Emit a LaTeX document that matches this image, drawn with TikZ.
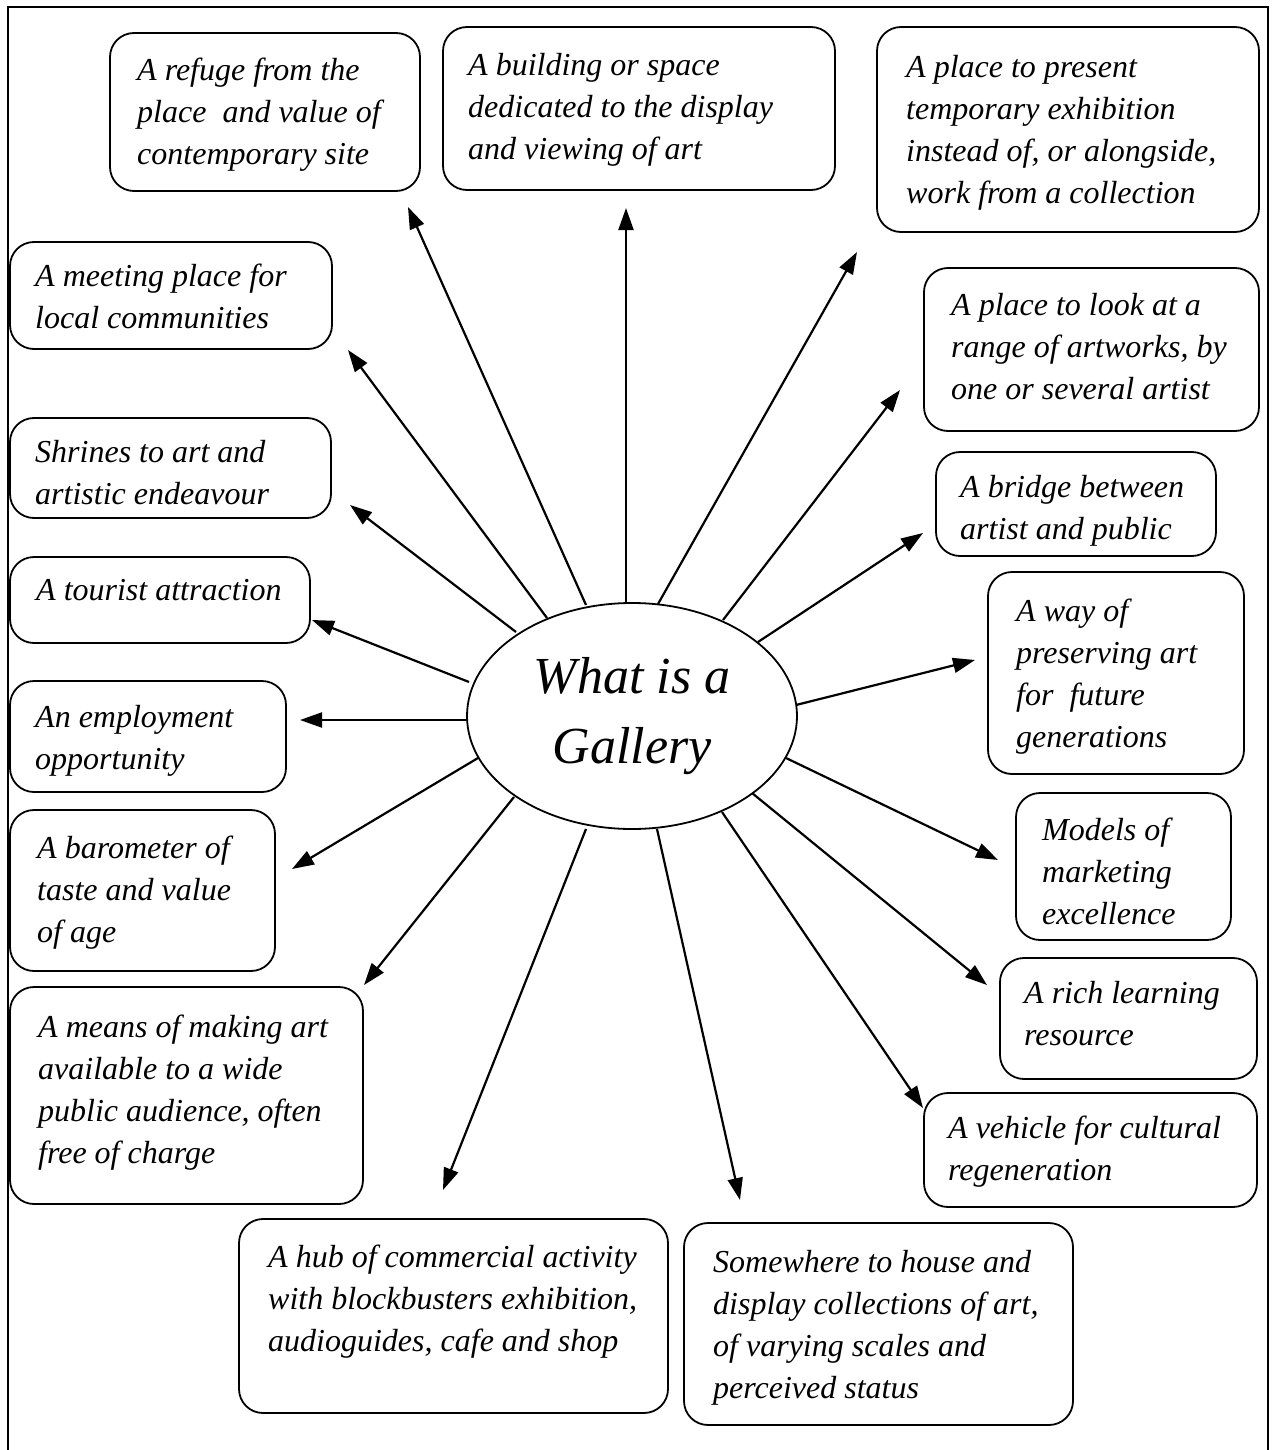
\documentclass[tikz,border=0pt]{standalone}
\usepackage{fontspec}
\setmainfont{Liberation Serif}
\usetikzlibrary{arrows.meta,shapes.geometric}
\tikzset{
  gbox/.style={draw, line width=1.8pt, rounded corners=24pt, inner sep=0pt},
  gtext/.style={inner sep=0pt, anchor=north west, align=left, font=\fontsize{32}{42}\selectfont\itshape},
  garrow/.style={line width=2.2pt, -{Triangle[length=22pt,width=15pt]}},
  gframe/.style={line width=2pt},
}
% name, x1, y1, x2, y2, text x, first baseline, text
\newcommand{\gbox}[8]{%
  \node[gbox, minimum width={#4-#2}, minimum height={#5-#3}] (#1) at ({(#2+#4)/2},{(#3+#5)/2}) {};
  \node[gtext] (#1t) at (#6,{#7-30}) {\rule{0pt}{30pt}#8};
}
\begin{document}
\begin{tikzpicture}[x=1pt,y=-1pt]
\useasboundingbox (0,0) rectangle (1275,1450);
\clip (0,0) rectangle (1275,1450);
\fill[white] (0,0) rectangle (1275,1450);
\draw[gframe] (8,1475) -- (8,7) -- (1268,7) -- (1268,1475);

% central ellipse
\node[draw, ellipse, line width=1.8pt, minimum width=330pt, minimum height=226pt, inner sep=0pt,
      align=center, font=\fontsize{52}{70}\selectfont\itshape] (g) at (632,716) {What is a\\Gallery};

% boxes
\gbox{refuge}{110}{33}{420}{191}{137}{80}{A refuge from the\\place\ \ and value of\\contemporary site}
\gbox{building}{443}{27}{835}{190}{468}{75}{A building or space\\dedicated to the display\\and viewing of art}
\gbox{present}{877}{27}{1259}{232}{906}{77}{A place to present\\temporary exhibition\\instead of, or alongside,\\work from a collection}
\gbox{look}{924}{268}{1259}{431}{951}{315}{A place to look at a\\range of artworks, by\\one or several artist}
\gbox{bridge}{936}{452}{1216}{556}{960}{497}{A bridge between\\artist and public}
\gbox{preserve}{988}{572}{1244}{774}{1016}{621}{A way of\\preserving art\\for\ \ future\\generations}
\gbox{models}{1016}{793}{1231}{940}{1042}{840}{Models of\\marketing\\excellence}
\gbox{rich}{1000}{958}{1257}{1079}{1024}{1003}{A rich learning\\resource}
\gbox{vehicle}{924}{1093}{1257}{1207}{948}{1138}{A vehicle for cultural\\regeneration}
\gbox{somewhere}{684}{1223}{1073}{1425}{713}{1272}{Somewhere to house and\\display collections of art,\\of varying scales and\\perceived status}
\gbox{hub}{239}{1219}{668}{1413}{268}{1267}{A hub of commercial activity\\with blockbusters exhibition,\\audioguides, cafe and shop}
\gbox{means}{10}{987}{363}{1204}{38}{1037}{A means of making art\\available to a wide\\public audience, often\\free of charge}
\gbox{barometer}{10}{810}{275}{971}{37}{858}{A barometer of\\taste and value\\of age}
\gbox{employ}{10}{681}{286}{792}{35}{727}{An employment\\opportunity}
\gbox{tourist}{10}{557}{310}{643}{36}{600}{A tourist attraction}
\gbox{shrines}{10}{418}{331}{518}{35}{462}{Shrines to art and\\artistic endeavour}
\gbox{meeting}{10}{242}{332}{349}{35}{286}{A meeting place for\\local communities}

% arrow ends
\coordinate (s1) at (586,605);  \coordinate (e1) at (408,207);
\coordinate (s2) at (626,603);  \coordinate (e2) at (626,208);
\coordinate (s3) at (658,604);  \coordinate (e3) at (857,252);
\coordinate (s4) at (723,620);  \coordinate (e4) at (900,390);
\coordinate (s5) at (758,642);  \coordinate (e5) at (923,533);
\coordinate (s6) at (796,705);  \coordinate (e6) at (975,660);
\coordinate (s7) at (786,758);  \coordinate (e7) at (998,860);
\coordinate (s8) at (752,793);  \coordinate (e8) at (987,985);
\coordinate (s9) at (722,812);  \coordinate (e9) at (923,1108);
\coordinate (s10) at (657,829); \coordinate (e10) at (740,1200);
\coordinate (s11) at (586,829); \coordinate (e11) at (443,1190);
\coordinate (s12) at (514,797); \coordinate (e12) at (364,985);
\coordinate (s13) at (478,758); \coordinate (e13) at (292,869);
\coordinate (s14) at (467,720); \coordinate (e14) at (300,720);
\coordinate (s15) at (469,682); \coordinate (e15) at (312,620);
\coordinate (s16) at (516,632); \coordinate (e16) at (350,505);
\coordinate (s17) at (547,618); \coordinate (e17) at (348,350);

\foreach \i in {1,...,17} { \draw[garrow] (s\i) -- (e\i); }
\end{tikzpicture}
\end{document}
